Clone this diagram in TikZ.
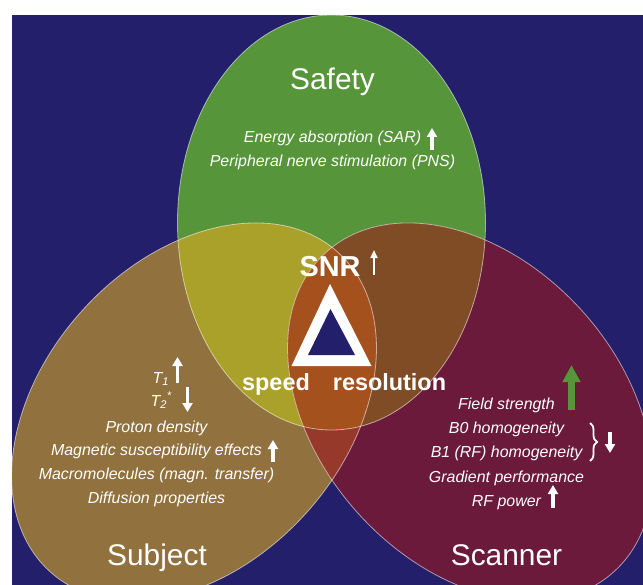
\documentclass[tikz,border=0pt]{standalone}
\usepackage{fontspec}
\setmainfont{Liberation Sans}
\usetikzlibrary{arrows.meta,decorations.pathreplacing}

\definecolor{navybg}{HTML}{231F6A}
\definecolor{safetygreen}{HTML}{57953A}
\definecolor{subjecttan}{HTML}{91723E}
\definecolor{scannerred}{HTML}{6B1A3B}
\definecolor{safesubj}{HTML}{AAA12A}
\definecolor{safescan}{HTML}{7F4C25}
\definecolor{subjscan}{HTML}{96392A}
\definecolor{allthree}{HTML}{A5511E}

\tikzset{
  subjectset/.style={rotate around={48:(194,412)}},
  scannerset/.style={rotate around={-48:(470,412)}},
  rim/.style={draw=white, draw opacity=0.55, line width=0.8bp},
  title/.style={text=white, anchor=base, font=\fontsize{30}{36}\selectfont},
  key/.style={text=white, anchor=base, font=\bfseries\fontsize{23.5}{28}\selectfont},
  item/.style={text=white, anchor=base, font=\itshape\fontsize{16}{19}\selectfont},
  uparrow/.style={white, line width=3.5bp, -{Triangle[width=10bp,length=9bp]}},
  thinarrow/.style={white, line width=2.2bp, -{Triangle[width=7bp,length=8bp]}},
  greenarrow/.style={safetygreen, line width=7bp, -{Triangle[width=17bp,length=17bp]}}
}

\begin{document}
\begin{tikzpicture}[x=1bp,y=-1bp]
\useasboundingbox (0,0) rectangle (643,585);
\fill[navybg] (12,15) rectangle (643,585);

\begin{scope}
\clip (12,15) rectangle (643,585);
% the three sets
\fill[safetygreen] (331.5,222.5) ellipse [x radius=154, y radius=207.5];
\fill[subjecttan, subjectset] (194,412) ellipse [x radius=215, y radius=151];
\fill[scannerred, scannerset] (470,412) ellipse [x radius=215, y radius=151];
% pairwise overlaps
\begin{scope}
  \clip (331.5,222.5) ellipse [x radius=154, y radius=207.5];
  \fill[safesubj, subjectset] (194,412) ellipse [x radius=215, y radius=151];
  \fill[safescan, scannerset] (470,412) ellipse [x radius=215, y radius=151];
\end{scope}
\begin{scope}
  \clip[subjectset] (194,412) ellipse [x radius=215, y radius=151];
  \fill[subjscan, scannerset] (470,412) ellipse [x radius=215, y radius=151];
  \clip[scannerset] (470,412) ellipse [x radius=215, y radius=151];
  \fill[allthree] (331.5,222.5) ellipse [x radius=154, y radius=207.5];
\end{scope}
% rims
\draw[rim] (331.5,222.5) ellipse [x radius=154, y radius=207.5];
\draw[rim, subjectset] (194,412) ellipse [x radius=215, y radius=151];
\draw[rim, scannerset] (470,412) ellipse [x radius=215, y radius=151];
\end{scope}

% centre triangle
\fill[white] (330,284) -- (291.5,366) -- (371.5,366) -- cycle;
\fill[navybg] (330.5,309) -- (308,355) -- (355,355) -- cycle;

\node[key, font=\bfseries\fontsize{29}{34}\selectfont] (snr) at (330,276) {SNR};
\node[key] (speed) at (276,390) {speed};
\node[key] (resol) at (389.5,390) {resolution};
\coordinate (snrlo) at (374,275);
\coordinate (snrhi) at (374,250);
\draw[thinarrow] (snrlo) -- (snrhi);

% Safety
\node[title] (safety) at (332.5,90) {Safety};
\foreach \txt [count=\i] in {Energy absorption (SAR), Peripheral nerve stimulation (PNS)}
  \node[item] (safe\i) at (332.5,143+24*\i-24) {\txt};
\coordinate (sarlo) at (432,150);
\coordinate (sarhi) at (432,128);
\draw[uparrow] (sarlo) -- (sarhi);

% Subject
\node[title] (subject) at (157,565) {Subject};
\node[item, anchor=base west] (tone) at (149,383) {T\textsubscript{1}};
\node[item, anchor=base west] (ttwo) at (147,406) {T\textsubscript{2}\textsuperscript{*}};
\foreach \txt [count=\i] in {Proton density, Magnetic susceptibility effects,
    Macromolecules (magn. transfer), Diffusion properties}
  \node[item] (subj\i) at (156.5,432+23.7*\i-23.7) {\txt};
\coordinate (tonelo) at (177.5,383);
\coordinate (tonehi) at (177.5,357);
\coordinate (ttwohi) at (187.5,387);
\coordinate (ttwolo) at (187.5,412);
\coordinate (magnlo) at (273,462);
\coordinate (magnhi) at (273,440);
\draw[uparrow] (tonelo) -- (tonehi);
\draw[uparrow] (ttwohi) -- (ttwolo);
\draw[uparrow] (magnlo) -- (magnhi);

% Scanner
\node[title] (scanner) at (506.5,565) {Scanner};
\foreach \txt [count=\i] in {Field strength, B0 homogeneity, B1 (RF) homogeneity,
    Gradient performance, RF power}
  \node[item] (scan\i) at (506.5,409+24.4*\i-24.4) {\txt};
\coordinate (fieldlo) at (571.5,410);
\coordinate (fieldhi) at (571.5,365);
\draw[greenarrow] (fieldlo) -- (fieldhi);
\coordinate (bracetop) at (590,423);
\coordinate (bracebot) at (590,461);
\draw[white, line width=1.8bp, decorate, decoration={brace, amplitude=7bp}] (bracetop) -- (bracebot);
\coordinate (homohi) at (610,432);
\coordinate (homolo) at (610,453);
\draw[uparrow] (homohi) -- (homolo);
\coordinate (rflo) at (553,508);
\coordinate (rfhi) at (553,485);
\draw[uparrow] (rflo) -- (rfhi);
\end{tikzpicture}
\end{document}
